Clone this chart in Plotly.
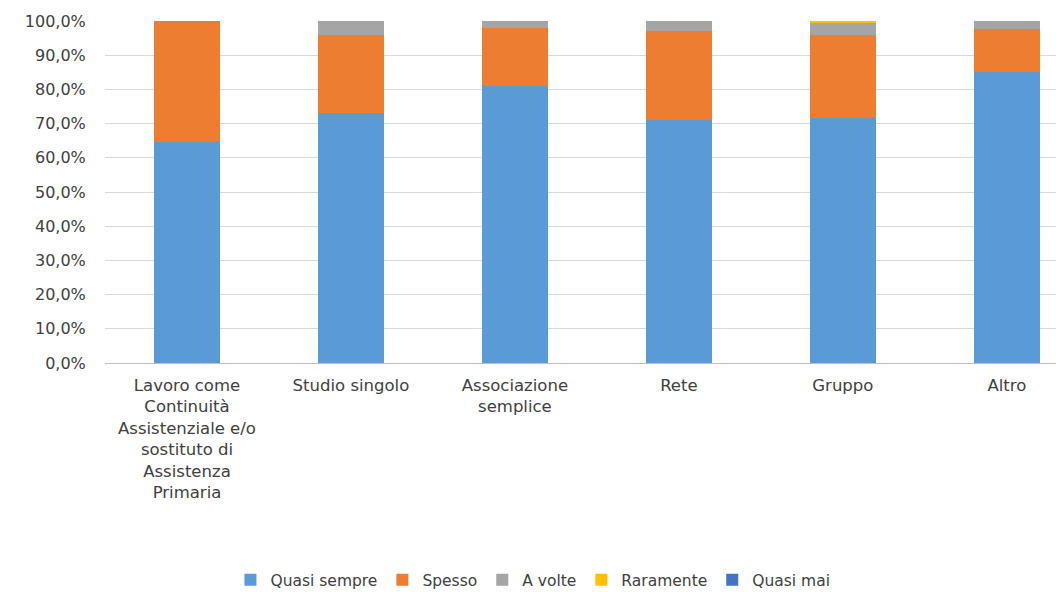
import plotly.graph_objects as go

categories = [
    "Lavoro come<br>Continuità<br>Assistenziale e/o<br>sostituto di<br>Assistenza<br>Primaria",
    "Studio singolo",
    "Associazione<br>semplice",
    "Rete",
    "Gruppo",
    "Altro",
]
quasi_sempre = [64.6, 73.0, 81.1, 71.1, 71.7, 85.0]
spesso = [35.4, 23.0, 17.0, 26.0, 24.2, 12.6]
a_volte = [0.0, 4.0, 1.9, 2.9, 3.7, 2.4]
raramente = [0.0, 0.0, 0.0, 0.0, 0.4, 0.0]
quasi_mai = [0.0, 0.0, 0.0, 0.0, 0.0, 0.0]

series = [
    ("Quasi sempre", quasi_sempre, "#5B9BD5"),
    ("Spesso", spesso, "#ED7D31"),
    ("A volte", a_volte, "#A5A5A5"),
    ("Raramente", raramente, "#FFC000"),
    ("Quasi mai", quasi_mai, "#4472C4"),
]

fig = go.Figure()
for name, vals, col in series:
    fig.add_trace(go.Bar(x=categories, y=vals, name=name, marker_color=col,
                         marker_line_width=0))

font_family = "'DejaVu Sans', sans-serif"
fig.update_layout(
    barmode="stack",
    bargap=0.6,
    width=1056, height=592,
    margin=dict(l=105, r=0, t=21, b=229),
    paper_bgcolor="white", plot_bgcolor="white",
    separators=",.",
    font=dict(family=font_family, size=16, color="#404040"),
    legend=dict(orientation="h", x=0.45, xanchor="center", y=0.02, yref="container",
                yanchor="middle", font=dict(size=15.5, color="#404040"),
                traceorder="normal", itemwidth=30),
    showlegend=True,
)
fig.update_xaxes(range=[-0.5, 5.3], tickfont=dict(size=16.5, color="#404040"),
                 showgrid=False, showline=False, ticks="outside", ticklen=7,
                 tickcolor="white")
fig.update_yaxes(range=[0, 100], dtick=10, tickformat=".1f", ticksuffix="%",
                 showgrid=True, gridcolor="#D9D9D9", gridwidth=1,
                 zeroline=True, zerolinecolor="#BFBFBF", zerolinewidth=1,
                 tickfont=dict(size=16, color="#404040"), ticks="outside", ticklen=15,
                 tickcolor="white")

fig.write_html("out.html")
